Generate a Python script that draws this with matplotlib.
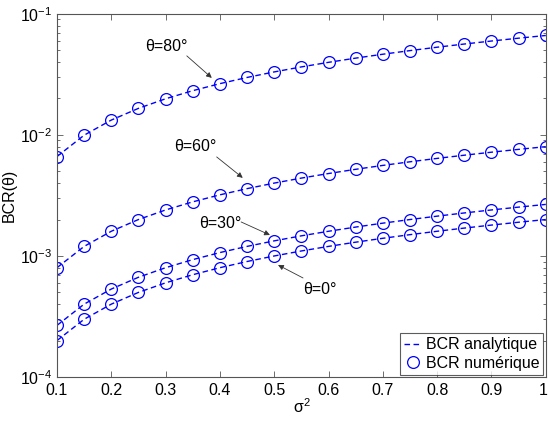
import matplotlib
matplotlib.use("Agg")
import matplotlib.pyplot as plt
import matplotlib.transforms as mtransforms
from matplotlib.ticker import FixedLocator, LogLocator, NullFormatter

plt.rcParams['font.family'] = ['Liberation Sans', 'DejaVu Sans']
plt.rcParams['mathtext.fontset'] = 'custom'
plt.rcParams['mathtext.rm'] = 'Liberation Sans'
plt.rcParams['mathtext.it'] = 'Liberation Sans:italic'
plt.rcParams['mathtext.default'] = 'regular'

sigma2 = [0.10, 0.15, 0.20, 0.25, 0.30, 0.35, 0.40, 0.45, 0.50, 0.55,
          0.60, 0.65, 0.70, 0.75, 0.80, 0.85, 0.90, 0.95, 1.00]
bcr_0 = [0.00020, 0.00030, 0.00040, 0.00050, 0.00060, 0.00070, 0.00080,
         0.00090, 0.00100, 0.00110, 0.00120, 0.00130, 0.00140, 0.00150,
         0.00160, 0.00170, 0.00180, 0.00190, 0.00200]
bcr_30 = [0.000267, 0.000400, 0.000533, 0.000667, 0.000800, 0.000933,
          0.001067, 0.001200, 0.001333, 0.001467, 0.001600, 0.001733,
          0.001867, 0.002000, 0.002133, 0.002267, 0.002400, 0.002533,
          0.002667]
bcr_60 = [0.0008, 0.0012, 0.0016, 0.0020, 0.0024, 0.0028, 0.0032, 0.0036,
          0.0040, 0.0044, 0.0048, 0.0052, 0.0056, 0.0060, 0.0064, 0.0068,
          0.0072, 0.0076, 0.0080]
bcr_80 = [0.00663, 0.00995, 0.01327, 0.01658, 0.01990, 0.02321, 0.02653,
          0.02985, 0.03316, 0.03648, 0.03979, 0.04311, 0.04643, 0.04974,
          0.05306, 0.05637, 0.05969, 0.06301, 0.06632]
series = [bcr_0, bcr_30, bcr_60, bcr_80]

x_ticks = [0.1, 0.2, 0.3, 0.4, 0.5, 0.6, 0.7, 0.8, 0.9, 1]
x_tick_labels = ['0.1', '0.2', '0.3', '0.4', '0.5', '0.6', '0.7', '0.8', '0.9', '1']
y_ticks = [1e-4, 1e-3, 1e-2, 1e-1]
y_tick_labels = ['$10^{-4}$', '$10^{-3}$', '$10^{-2}$', '$10^{-1}$']

# annotations: label, text pos, arrow tail, arrow head (data coords)
annots = [
    ('θ=80°', (0.302, 0.0533), (0.339, 0.045), (0.385, 0.0296)),
    ('θ=60°', (0.354, 0.00796), (0.394, 0.00658), (0.442, 0.00442)),
    ('θ=30°', (0.400, 0.00187), (0.439, 0.00191), (0.492, 0.00149)),
    ('θ=0°', (0.584, 0.000533), (0.553, 0.000658), (0.507, 0.000843)),
]

blue = '#0000ff'
fig = plt.figure(figsize=(5.48, 4.21), dpi=100)
ax = fig.add_axes([0.104, 0.1045, 0.892, 0.8625])

for i, s in enumerate(series):
    ax.plot(sigma2, s, linestyle='--', color=blue, linewidth=1.0,
            dashes=(4, 2.5), label='BCR analytique' if i == 0 else None)
    ax.plot(sigma2, s, linestyle='none', marker='o', markersize=8.5,
            markerfacecolor='none', markeredgecolor=blue, markeredgewidth=0.9,
            label='BCR numérique' if i == 0 else None)

ax.set_yscale('log')
ax.set_xlim(0.1, 1.0)
ax.set_ylim(1e-4, 1e-1)
ax.xaxis.set_major_locator(FixedLocator(x_ticks))
ax.set_xticklabels(x_tick_labels)
ax.yaxis.set_major_locator(FixedLocator(y_ticks))
ax.set_yticklabels(y_tick_labels)
ax.yaxis.set_minor_locator(LogLocator(base=10, subs=range(2, 10)))
ax.yaxis.set_minor_formatter(NullFormatter())

ax.tick_params(which='both', direction='in', top=True, right=True,
               labelsize=11.5, colors='#000000')
ax.tick_params(which='major', length=4, width=0.6, color='#555555')
ax.tick_params(which='minor', length=2, width=0.6, color='#555555')
ax.tick_params(axis='x', pad=4)
for sp in ax.spines.values():
    sp.set_color('#555555')
    sp.set_linewidth(0.8)

# keep the last x tick label inside the figure edge
last = ax.get_xticklabels()[-1]
last.set_transform(last.get_transform() +
                   mtransforms.ScaledTranslation(-2.5 / 100, 0, fig.dpi_scale_trans))

ax.set_xlabel('σ$^2$', fontsize=11.5, labelpad=0)
ax.set_ylabel('BCR(θ)', fontsize=11.5)
ax.yaxis.set_label_coords(-0.082, 0.5)

for label, tpos, tail, head in annots:
    ax.text(tpos[0], tpos[1], label, fontsize=11.5, ha='center', va='center')
    ax.annotate('', xy=head, xytext=tail,
                arrowprops=dict(arrowstyle='-|>', color='#333333', lw=0.6,
                                mutation_scale=8, shrinkA=0, shrinkB=0))

leg = ax.legend(loc='lower right', fontsize=11.5, frameon=True, fancybox=False,
                handlelength=1.1, handletextpad=0.25, borderpad=0.25,
                labelspacing=0.2, borderaxespad=0.15)
leg.get_frame().set_edgecolor('#333333')
leg.get_frame().set_linewidth(0.8)

fig.savefig('out.png', dpi=100)
